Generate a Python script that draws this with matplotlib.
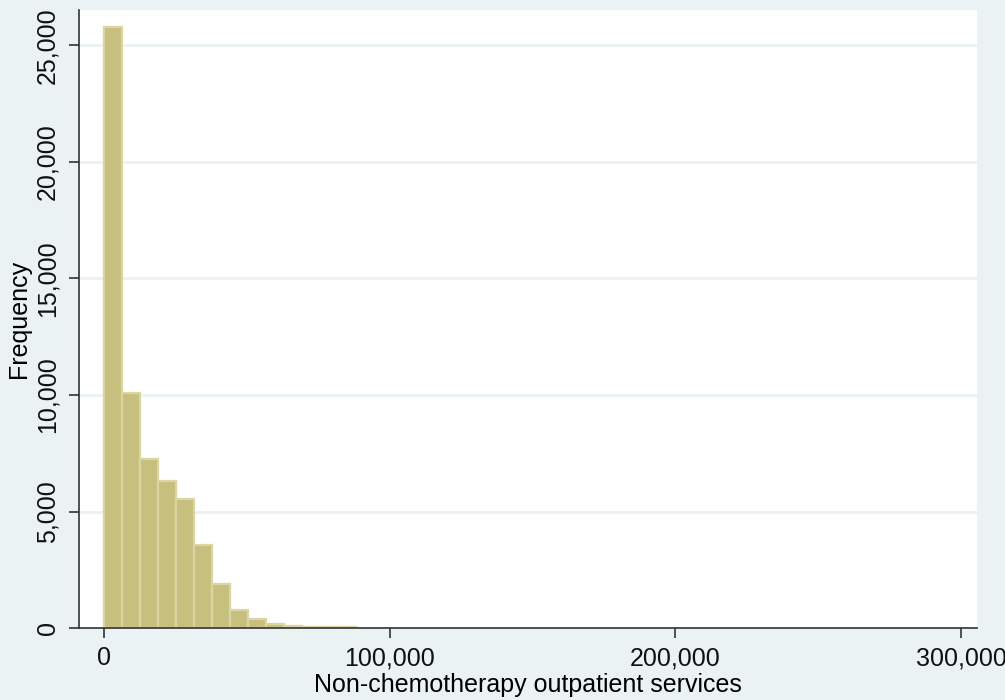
import numpy as np
import matplotlib.pyplot as plt
from matplotlib.ticker import FuncFormatter

# histogram bins (width in dollars) and counts per bin
bin_width = 6280
counts = [25800, 10100, 7260, 6300, 5530, 3590, 1890, 800, 400, 200,
          80, 75, 70, 60]
x_ticks = [0, 100000, 200000, 300000]
y_ticks = [0, 5000, 10000, 15000, 20000, 25000]

bg = '#eaf2f3'
plt.rcParams['font.family'] = ['Liberation Sans', 'DejaVu Sans']

fig = plt.figure(figsize=(10.05, 7), dpi=100, facecolor=bg)
ax = fig.add_axes([79 / 1005, 1 - 628.3 / 700, (976.7 - 79) / 1005, (628.3 - 10) / 700])
ax.set_facecolor('white')

edges = np.arange(len(counts)) * bin_width
ax.bar(edges, counts, width=bin_width, align='edge', color='#c6bf7d',
       edgecolor='#dad5a3', linewidth=1.6, zorder=3)

ax.set_xlim(-8930, 305500)
ax.set_ylim(0, 26510)
ax.set_xticks(x_ticks)
ax.set_yticks(y_ticks)
fmt = FuncFormatter(lambda v, p: f'{int(v):,}')
ax.xaxis.set_major_formatter(fmt)
ax.yaxis.set_major_formatter(fmt)

ax.grid(axis='y', color=bg, linewidth=2, zorder=0)
for s in ['top', 'right']:
    ax.spines[s].set_visible(False)
for s in ['left', 'bottom']:
    ax.spines[s].set_color('#333333')
    ax.spines[s].set_linewidth(1.2)
    ax.spines[s].set_zorder(4)

ax.tick_params(axis='both', direction='out', length=7, width=1.2, color='#333333',
               labelsize=18, labelcolor='#111111')
ax.tick_params(axis='x', pad=6)
ax.tick_params(axis='y', pad=7)
plt.setp(ax.get_yticklabels(), rotation=90, va='center')

ax.set_xlabel('Non-chemotherapy outpatient services', fontsize=18, labelpad=2)
ax.set_ylabel('Frequency', fontsize=18, labelpad=3)

fig.savefig('out.png', dpi=100, facecolor=bg)
